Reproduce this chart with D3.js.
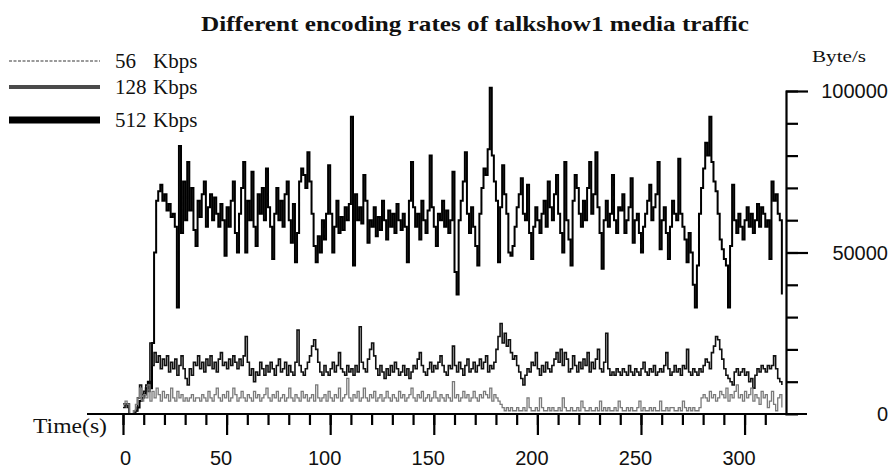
<!DOCTYPE html>
<html>
<head>
<meta charset="utf-8">
<script src="https://cdn.jsdelivr.net/npm/d3@7"></script>
<style>
  html, body { margin: 0; padding: 0; background: #fff; }
  svg { display: block; }
  .serif { font-family: "Liberation Serif", "Times New Roman", serif; fill: #111; }
  .sans { font-family: "Liberation Sans", Arial, sans-serif; fill: #111; }
</style>
</head>
<body>
<svg id="chart" width="891" height="471"></svg>
<script>
// Traffic rates in kB/s (1 kB = 1000 Byte), one sample per second from t = 0 s
const rate56 = [
  3, 4, 3, 0, 0, 1, 3, 5, 8, 4,
  6, 5, 9, 4, 7, 5, 8, 6, 4, 7,
  5, 6, 4, 8, 5, 4, 7, 5, 6, 4,
  5, 4, 5, 6, 4, 5, 5, 4, 6, 5,
  4, 7, 5, 4, 6, 8, 5, 4, 6, 5,
  7, 4, 5, 8, 6, 4, 5, 7, 5, 4,
  6, 5, 4, 7, 5, 6, 4, 5, 6, 8,
  5, 4, 6, 5, 7, 4, 5, 6, 4, 5,
  8, 5, 4, 6, 5, 4, 7, 5, 6, 4,
  5, 6, 4, 9, 5, 4, 5, 6, 4, 7,
  5, 4, 6, 5, 8, 4, 5, 6, 11, 5,
  4, 6, 5, 7, 4, 5, 8, 5, 4, 6,
  5, 7, 4, 5, 6, 4, 5, 7, 5, 4,
  6, 5, 4, 7, 5, 6, 4, 5, 6, 8,
  5, 4, 6, 5, 7, 4, 5, 6, 4, 5,
  7, 5, 4, 6, 5, 4, 6, 5, 4, 10,
  5, 6, 4, 5, 7, 5, 6, 4, 5, 7,
  5, 4, 6, 5, 7, 6, 5, 8, 4, 6,
  5, 4, 3, 2, 1, 2, 1, 2, 1, 1,
  2, 1, 1, 2, 1, 5, 2, 1, 1, 2,
  1, 5, 2, 1, 1, 2, 1, 2, 1, 1,
  2, 1, 5, 2, 1, 1, 2, 1, 1, 2,
  1, 4, 2, 1, 1, 2, 1, 1, 2, 1,
  4, 1, 2, 1, 2, 1, 1, 2, 1, 4,
  2, 1, 1, 2, 1, 2, 1, 1, 2, 4,
  1, 2, 1, 1, 2, 1, 2, 1, 1, 4,
  1, 1, 2, 1, 2, 2, 1, 1, 2, 1,
  4, 2, 1, 2, 1, 2, 1, 1, 2, 5,
  6, 5, 4, 7, 5, 6, 4, 5, 7, 6,
  5, 8, 4, 6, 5, 7, 9, 5, 6, 4,
  7, 5, 6, 8, 4, 6, 5, 3, 7, 5,
  6, 2, 4, 7, 3, 1, 5, 6, 2
];

const rate128 = [
  2, 3, 2, 0, 0, 0, 1, 5, 9, 6,
  7, 9, 7, 22, 15, 19, 16, 18, 14, 17,
  15, 18, 13, 16, 14, 17, 12, 15, 18, 14,
  11, 9, 14, 12, 16, 15, 18, 14, 16, 13,
  17, 15, 18, 14, 16, 13, 17, 19, 15, 16,
  14, 17, 15, 18, 16, 14, 17, 15, 18, 24,
  16, 12, 14, 10, 13, 12, 16, 14, 12, 15,
  13, 16, 14, 12, 15, 17, 13, 14, 16, 12,
  15, 13, 12, 16, 26, 15, 13, 12, 14, 16,
  18, 21, 23, 20, 16, 13, 12, 15, 13, 12,
  14, 16, 13, 15, 19, 14, 13, 12, 15, 13,
  14, 12, 15, 13, 27, 16, 14, 13, 17, 20,
  22, 18, 14, 12, 15, 13, 11, 14, 12, 15,
  13, 16, 14, 12, 13, 15, 12, 14, 11, 13,
  15, 14, 17, 19, 15, 13, 12, 14, 16, 13,
  15, 14, 16, 18, 15, 13, 12, 15, 14, 21,
  15, 13, 16, 14, 12, 15, 17, 13, 14, 16,
  13, 15, 17, 14, 16, 18, 13, 15, 14, 16,
  20, 24, 28, 22, 25, 21, 23, 19, 17, 18,
  15, 13, 11, 9, 12, 14, 13, 16, 15, 19,
  14, 12, 15, 13, 16, 14, 13, 15, 17, 19,
  16, 20, 15, 19, 17, 13, 14, 18, 15, 13,
  16, 14, 17, 15, 19, 13, 16, 14, 17, 20,
  14, 13, 16, 25, 14, 12, 13, 12, 14, 13,
  12, 14, 13, 12, 15, 13, 12, 14, 13, 12,
  14, 16, 13, 12, 14, 13, 15, 12, 13, 14,
  13, 15, 19, 14, 12, 13, 15, 13, 14, 12,
  15, 14, 20, 13, 12, 14, 13, 12, 14, 13,
  15, 17, 16, 14, 19, 21, 24, 23, 20, 17,
  14, 12, 11, 10, 9, 13, 14, 12, 13, 14,
  12, 13, 10, 11, 8, 12, 14, 13, 15, 14,
  13, 15, 14, 15, 18, 14, 11, 10, 9
];

const rate512 = [
  3, 3, 3, 0, 0, 0, 1, 2, 4, 5,
  6, 8, 10, 8, 22, 50, 66, 69, 71, 66,
  68, 63, 65, 61, 62, 58, 33, 83, 56, 72,
  60, 78, 63, 70, 57, 52, 66, 61, 68, 72,
  58, 64, 68, 60, 67, 62, 58, 65, 60, 49,
  64, 58, 66, 72, 56, 50, 62, 70, 78, 50,
  66, 60, 75, 58, 52, 68, 62, 70, 60, 76,
  64, 58, 48, 62, 70, 60, 66, 58, 68, 72,
  60, 53, 65, 47, 56, 72, 76, 74, 70, 81,
  72, 62, 52, 47, 55, 50, 60, 54, 62, 77,
  62, 50, 58, 66, 56, 61, 57, 64, 60, 65,
  92, 46, 68, 60, 64, 59, 74, 66, 53, 60,
  58, 64, 55, 61, 57, 66, 60, 54, 63, 58,
  62, 56, 65, 60, 57, 62, 58, 47, 66, 78,
  64, 58, 62, 54, 66, 60, 56, 63, 80, 64,
  58, 52, 62, 60, 66, 58, 63, 56, 60, 75,
  44, 37, 60, 66, 72, 81, 62, 56, 64, 58,
  52, 46, 62, 70, 76, 74, 82, 101, 80, 72,
  66, 47, 64, 77, 68, 62, 50, 49, 52, 58,
  64, 68, 73, 62, 60, 71, 56, 48, 58, 64,
  60, 56, 62, 66, 58, 72, 64, 60, 68, 74,
  62, 56, 50, 78, 60, 54, 46, 66, 74, 70,
  62, 58, 66, 60, 70, 78, 62, 68, 81, 64,
  56, 45, 60, 66, 58, 62, 74, 60, 56, 64,
  63, 68, 56, 60, 64, 73, 53, 60, 62, 56,
  50, 58, 62, 66, 71, 60, 64, 68, 78, 51,
  60, 64, 56, 48, 58, 66, 62, 60, 79, 62,
  58, 54, 47, 56, 50, 40, 33, 46, 62, 70,
  76, 84, 80, 92, 78, 72, 69, 62, 54, 51,
  48, 46, 33, 52, 71, 60, 56, 62, 58, 54,
  60, 64, 58, 62, 56, 60, 65, 58, 64, 62,
  58, 60, 48, 72, 66, 68, 62, 60, 37
];

const seriesNames = ["56  Kbps", "128 Kbps", "512 Kbps"];
const timeTicks = [0, 50, 100, 150, 200, 250, 300];
const rateTicks = [0, 50000, 100000];
const titleText = "Different encoding rates of talkshow1 media traffic";
const BYTES_PER_KB = 1000;

const svg = d3.select("#chart");

const x = d3.scaleLinear().domain([0, 320]).range([123, 786]);
const y = d3.scaleLinear().domain([0, 100000]).range([414, 91]);

// Title
svg.append("text")
  .attr("class", "serif")
  .attr("x", 475).attr("y", 31)
  .attr("text-anchor", "middle")
  .attr("font-size", 22).attr("font-weight", "bold")
  .attr("textLength", 548).attr("lengthAdjust", "spacingAndGlyphs")
  .text(titleText);

// Unit label above the rate axis
svg.append("text")
  .attr("class", "serif")
  .attr("x", 812).attr("y", 62)
  .attr("font-size", 17)
  .attr("textLength", 54).attr("lengthAdjust", "spacingAndGlyphs")
  .text("Byte/s");

// Series lines, drawn as one-second steps
const series = [
  { name: seriesNames[0], values: rate56,  stroke: "#7a7a7a", width: 1.3, legendWidth: 2,  legendDash: "3,1.5", legendStroke: "#9a9a9a" },
  { name: seriesNames[1], values: rate128, stroke: "#111",    width: 1.6, legendWidth: 4,  legendDash: null,    legendStroke: "#4a4a4a" },
  { name: seriesNames[2], values: rate512, stroke: "#000",    width: 2,   legendWidth: 7,  legendDash: null,    legendStroke: "#000" }
];

const line = d3.line()
  .x((d, i) => x(i))
  .y(d => y(d * BYTES_PER_KB))
  .curve(d3.curveStepAfter);

const plot = svg.append("g");
// draw 512 first so the lower-rate traces stay visible on top
[2, 1, 0].forEach(k => {
  const s = series[k];
  plot.append("path")
    .datum(s.values)
    .attr("fill", "none")
    .attr("stroke", s.stroke)
    .attr("stroke-width", s.width)
    .attr("stroke-linejoin", "miter")
    .attr("d", line);
});

// Legend
const legendY = [61, 87, 120];
const legend = svg.append("g");
series.forEach((s, i) => {
  legend.append("line")
    .attr("x1", 9).attr("x2", 100)
    .attr("y1", legendY[i]).attr("y2", legendY[i])
    .attr("stroke", s.legendStroke)
    .attr("stroke-width", s.legendWidth)
    .attr("stroke-dasharray", s.legendDash);
  const parts = s.name.split(/\s+/);
  const t = legend.append("text")
    .attr("class", "serif")
    .attr("y", legendY[i] + 7)
    .attr("font-size", 21);
  t.append("tspan").attr("x", 115).text(parts[0] + " ");
  t.append("tspan").attr("x", 153).text(parts[1]);
});

// Time axis
const baseY = y(0);
const xAxisG = svg.append("g").attr("transform", `translate(0,${baseY})`);
xAxisG.append("line")
  .attr("x1", 87).attr("x2", 807)
  .attr("y1", 0).attr("y2", 0)
  .attr("stroke", "#000").attr("stroke-width", 2);

const minorX = xAxisG.append("g").call(
  d3.axisBottom(x).tickValues(d3.range(0, 320, 10)).tickSize(11).tickFormat("")
);
const majorX = xAxisG.append("g").call(
  d3.axisBottom(x).tickValues(timeTicks).tickSize(21).tickPadding(16)
);
[minorX, majorX].forEach(g => {
  g.select(".domain").remove();
  g.selectAll(".tick line").attr("stroke", "#000").attr("stroke-width", 2.2);
});
majorX.selectAll(".tick text")
  .attr("class", "sans")
  .attr("font-size", 20)
  .attr("dx", d => d === 0 ? 2 : -6);

svg.append("text")
  .attr("class", "serif")
  .attr("x", 33).attr("y", 433)
  .attr("font-size", 21)
  .attr("textLength", 74).attr("lengthAdjust", "spacingAndGlyphs")
  .text("Time(s)");

// Rate axis on the right
const yAxisX = x(320);
const yAxisG = svg.append("g").attr("transform", `translate(${yAxisX},0)`);
const minorY = yAxisG.append("g").call(
  d3.axisRight(y).tickValues(d3.range(10000, 100000, 10000)).tickSize(12).tickFormat("")
);
minorY.select(".domain").attr("stroke", "#000").attr("stroke-width", 2.2);
const majorY = yAxisG.append("g").call(
  d3.axisRight(y).tickValues(rateTicks.filter(v => v > 0)).tickSize(22).tickFormat(d3.format("d"))
);
majorY.select(".domain").remove();
[minorY, majorY].forEach(g => g.selectAll(".tick line").attr("stroke", "#000").attr("stroke-width", 2.2));
majorY.selectAll(".tick text").remove();

// Rate tick labels, right-aligned at the edge
svg.append("g").selectAll("text")
  .data(rateTicks)
  .join("text")
  .attr("class", "sans")
  .attr("x", 888)
  .attr("y", d => y(d))
  .attr("dy", "0.36em")
  .attr("text-anchor", "end")
  .attr("font-size", 20)
  .text(d3.format("d"));
</script>
</body>
</html>
